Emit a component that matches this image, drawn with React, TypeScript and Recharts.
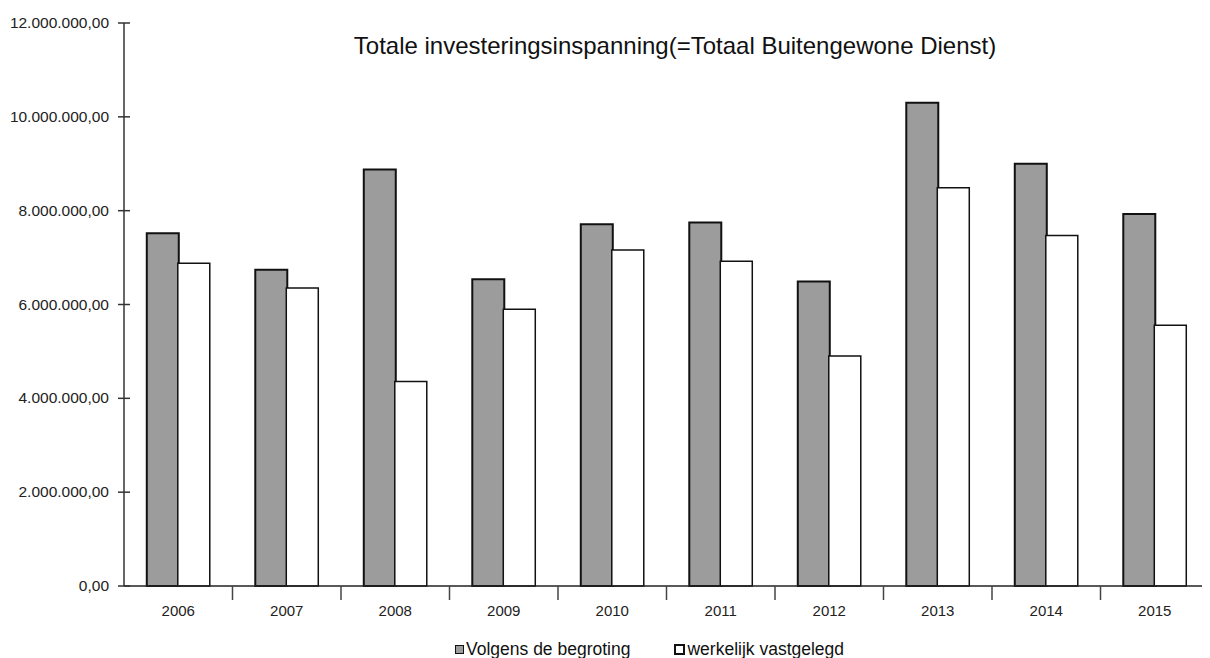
import React from 'react'
import { BarChart, Bar, XAxis, YAxis, Legend } from 'recharts'

const years = ['2006', '2007', '2008', '2009', '2010', '2011', '2012', '2013', '2014', '2015']
const begroting = [7520000, 6740000, 8880000, 6540000, 7710000, 7750000, 6490000, 10300000, 9000000, 7930000]
const vastgelegd = [6880000, 6350000, 4360000, 5900000, 7160000, 6920000, 4900000, 8490000, 7470000, 5560000]
const yTicks = [0, 2000000, 4000000, 6000000, 8000000, 10000000, 12000000]

const data = years.map((jaar, i) => ({
  jaar,
  'Volgens de begroting': begroting[i],
  'werkelijk vastgelegd': vastgelegd[i],
}))

const FONT = 'Arial, "Liberation Sans", sans-serif'
const CHART_W = 1202
const CHART_H = 650
const MARGIN = { top: 15, right: 1, bottom: 32, left: 0 }
const Y_W = 116
const AXIS_X = MARGIN.left + Y_W
const BAND = (CHART_W - AXIS_X - MARGIN.right) / years.length

// 12.000.000,00 style
function fmt(v: number) {
  const s = Math.round(v).toString().replace(/\B(?=(\d{3})+(?!\d))/g, '.')
  return s + ',00'
}

function YTick(props: any) {
  const { y, payload } = props
  return (
    <g>
      <line x1={AXIS_X - 6} x2={AXIS_X + 6} y1={y} y2={y} stroke="#333" strokeWidth={1.5} />
      <text x={AXIS_X - 15} y={y} dy={5} textAnchor="end" fontSize={15.5} fontFamily={FONT} fill="#222">
        {fmt(payload.value)}
      </text>
    </g>
  )
}

function XTick(props: any) {
  const { x, y, payload, index } = props
  const left = x - BAND / 2
  return (
    <g>
      {index > 0 && (
        <line x1={left} x2={left} y1={y - 8} y2={y + 6} stroke="#444" strokeWidth={1.5} />
      )}
      <text x={x} y={y} dy={22} textAnchor="middle" fontSize={15} fontFamily={FONT} fill="#222">
        {payload.value}
      </text>
    </g>
  )
}

function LegendBox() {
  const sq = (fill: string, bw: number) => ({
    display: 'inline-block', width: 7, height: 7, background: fill,
    border: `${bw}px solid #111`, marginRight: 2, verticalAlign: 'middle',
  })
  return (
    <div style={{ fontFamily: FONT, fontSize: 17.5, lineHeight: '20px', color: '#111', whiteSpace: 'nowrap' }}>
      <span style={sq('#9c9c9c', 1.5)} />
      <span style={{ verticalAlign: 'middle' }}>Volgens de begroting</span>
      <span style={{ display: 'inline-block', width: 44 }} />
      <span style={sq('#fff', 2)} />
      <span style={{ verticalAlign: 'middle' }}>werkelijk vastgelegd</span>
    </div>
  )
}

export default function App() {
  return (
    <div style={{ position: 'relative', width: CHART_W, height: CHART_H }}>
      <div style={{
        position: 'absolute', top: 24, left: 0, width: CHART_W, paddingLeft: 132,
        boxSizing: 'border-box', textAlign: 'center', fontFamily: FONT, fontSize: 24, color: '#111', zIndex: 1,
      }}>
        Totale investeringsinspanning(=Totaal Buitengewone Dienst)
      </div>
      <BarChart width={CHART_W} height={CHART_H} data={data} margin={MARGIN}
        barCategoryGap="21%" barGap={-1}>
        <YAxis width={Y_W} domain={[0, 12000000]} ticks={yTicks} interval={0}
          tick={<YTick />} tickLine={false} axisLine={{ stroke: '#333', strokeWidth: 1.5 }} />
        <XAxis dataKey="jaar" height={40} tick={<XTick />} tickLine={false}
          interval={0} axisLine={{ stroke: '#222', strokeWidth: 1.5 }} />
        <Legend layout="horizontal" verticalAlign="middle" align="center" content={<LegendBox />}
          wrapperStyle={{ top: 630, left: 447, width: 'auto' }} />
        <Bar dataKey="Volgens de begroting" fill="#9c9c9c" stroke="#111" strokeWidth={2}
          isAnimationActive={false} />
        <Bar dataKey="werkelijk vastgelegd" fill="#ffffff" stroke="#111" strokeWidth={1.5}
          isAnimationActive={false} />
      </BarChart>
    </div>
  )
}
